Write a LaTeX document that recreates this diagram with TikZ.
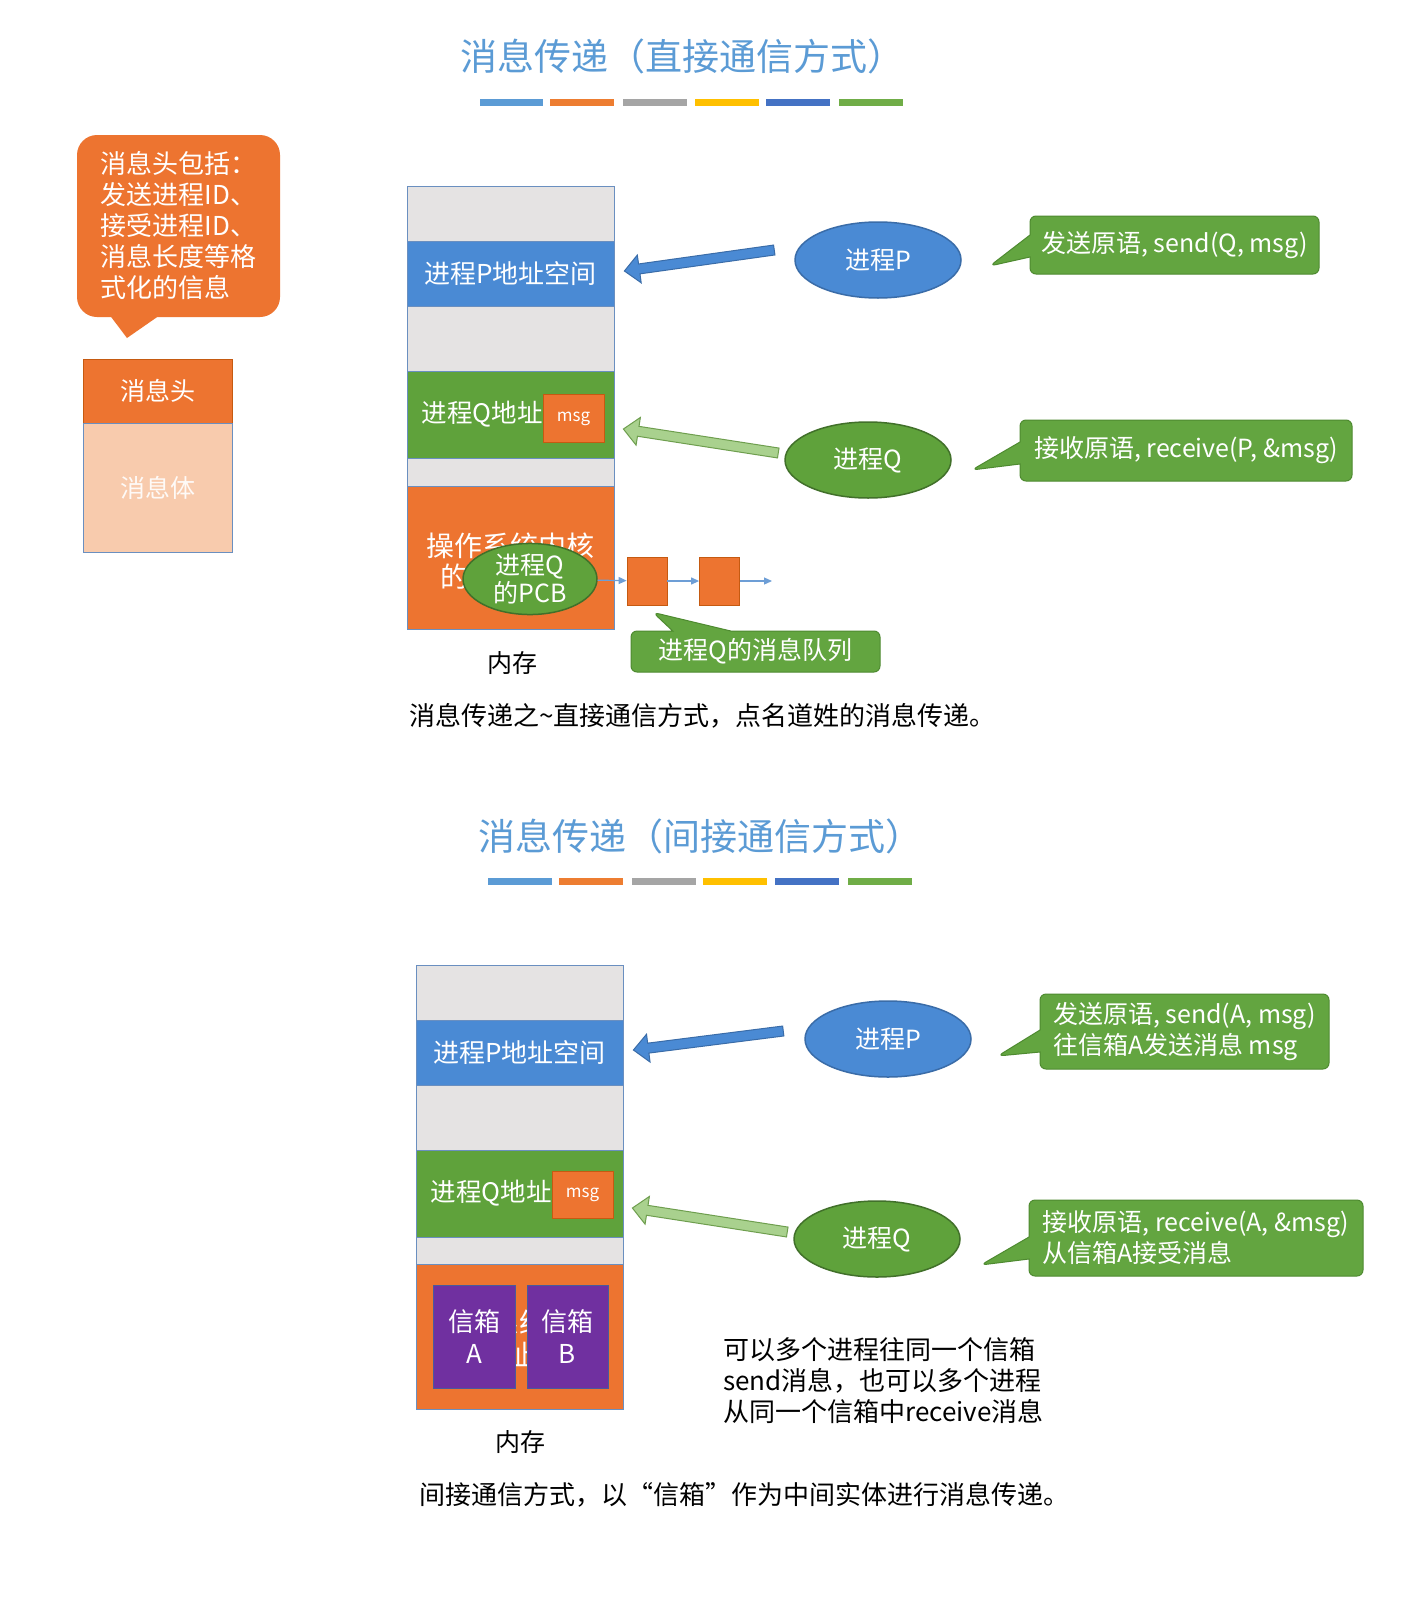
\documentclass[tikz,border=0pt]{standalone}
\usepackage{fontspec}
\setmainfont{Noto Sans CJK SC}
\usetikzlibrary{positioning,shapes.geometric,shapes.callouts,calc,arrows.meta}

\definecolor{ttlblue}{HTML}{5B9BD5}
\definecolor{pblue}{HTML}{4A8AD4}
\definecolor{pblueline}{HTML}{3A6CA8}
\definecolor{qgreen}{HTML}{5FA23B}
\definecolor{qgreenline}{HTML}{41702A}
\definecolor{saygreen}{HTML}{63A540}
\definecolor{sayline}{HTML}{4E8A30}
\definecolor{lgreen}{HTML}{A9D18E}
\definecolor{lgreenline}{HTML}{6E9E4E}
\definecolor{osorange}{HTML}{ED7430}
\definecolor{osline}{HTML}{C55A11}
\definecolor{peach}{HTML}{F8CBAD}
\definecolor{memgray}{HTML}{E5E3E3}
\definecolor{memline}{HTML}{6A8FC0}
\definecolor{boxpurple}{HTML}{7030A0}
\definecolor{boxline}{HTML}{4A5A9A}
\definecolor{qline}{HTML}{6D9ED6}
\definecolor{barblue}{HTML}{5B9BD5}
\definecolor{barorange}{HTML}{ED7D31}
\definecolor{bargray}{HTML}{A5A5A5}
\definecolor{baryellow}{HTML}{FFC000}
\definecolor{bardkblue}{HTML}{4472C4}
\definecolor{bargreen}{HTML}{70AD47}

\newcommand{\txtsize}[2]{\fontsize{#1}{#2}\selectfont}

% wide arrow with outline: fill, line, tail, tip
\newcommand{\blockarrow}[4]{%
  \coordinate (ba-t) at (#3);
  \coordinate (ba-h) at (#4);
  \coordinate (ba-n) at ($(ba-h)!15pt!(ba-t)$);
  \filldraw[fill=#1, draw=#2, line width=1pt, line join=miter]
    ($(ba-t)!5pt!90:(ba-h)$) -- ($(ba-n)!5pt!-90:(ba-t)$) -- ($(ba-n)!14pt!-90:(ba-t)$)
    -- (ba-h) -- ($(ba-n)!14pt!90:(ba-t)$) -- ($(ba-n)!5pt!90:(ba-t)$)
    -- ($(ba-t)!5pt!-90:(ba-h)$) -- cycle;
}

\begin{document}
\begin{tikzpicture}[
    x=1pt, y=-1pt,
    heading/.style={text=ttlblue, font=\txtsize{37pt}{40pt}},
    band/.style={rectangle, draw=memline, line width=0.8pt, minimum width=207pt, inner sep=0pt, text=white, font=\txtsize{26pt}{31pt}},
    bandtext/.style={text=white, inner sep=0pt, font=\txtsize{25.5pt}{31pt}},
    msgbox/.style={rectangle, fill=osorange, draw=osline, line width=0.8pt, minimum width=61pt, minimum height=48pt, inner sep=0pt, text=white, font=\txtsize{17pt}{20pt}},
    proc/.style={ellipse, minimum width=166pt, minimum height=76pt, inner sep=0pt, line width=1.5pt, text=white, font=\txtsize{25pt}{30pt}},
    pcb/.style={ellipse, minimum width=134pt, minimum height=71pt, inner sep=0pt, fill=qgreen, draw=qgreenline, line width=1.5pt, text=white, align=center, font=\txtsize{25pt}{28pt}},
    saybox/.style={rectangle callout, rounded corners=6pt, fill=saygreen, draw=sayline, line width=1pt, inner sep=0pt, text=white, align=left, font=\txtsize{25pt}{31pt}, callout pointer width=22pt},
    qbox/.style={rectangle, fill=osorange, draw=osline, line width=0.8pt, minimum width=40pt, minimum height=48pt, inner sep=0pt},
    qarrow/.style={-{Triangle[width=7pt,length=8pt]}, line width=1.2pt, draw=qline},
    mailbox/.style={rectangle, fill=boxpurple, draw=boxline, line width=1pt, minimum width=82pt, minimum height=103pt, inner sep=0pt, text=white, align=center, font=\txtsize{26pt}{32pt}},
    note/.style={rectangle, rounded corners=20pt, fill=osorange, minimum width=203pt, minimum height=182pt, inner sep=0pt, text=white, align=left, font=\txtsize{26pt}{31pt}},
    msgpart/.style={rectangle, minimum width=149pt, inner sep=0pt, line width=0.8pt, font=\txtsize{25pt}{30pt}},
    plaintext/.style={text=black, inner sep=0pt, align=left, font=\txtsize{25pt}{31pt}}
]
    \useasboundingbox (0,0) rectangle (1403,1603);
    \fill[white] (0,0) rectangle (1403,1603);

    % Titles and colour bars
    \node[heading] (titleA) at (682,56) {消息传递（直接通信方式）};
    \fill[barblue]   (480,99) rectangle (543,106);
    \fill[barorange] (550,99) rectangle (614,106);
    \fill[bargray]   (623,99) rectangle (687,106);
    \fill[baryellow] (695,99) rectangle (759,106);
    \fill[bardkblue] (766,99) rectangle (830,106);
    \fill[bargreen]  (839,99) rectangle (903,106);

    \node[heading] (titleB) at (700,836) {消息传递（间接通信方式）};
    \fill[barblue]   (488,878) rectangle (552,885);
    \fill[barorange] (559,878) rectangle (623,885);
    \fill[bargray]   (632,878) rectangle (696,885);
    \fill[baryellow] (703,878) rectangle (767,885);
    \fill[bardkblue] (775,878) rectangle (839,885);
    \fill[bargreen]  (848,878) rectangle (912,885);

    % Message structure
    \node[note] (hdrnote) at (178.5,226) {消息头包括：\\发送进程ID、\\接受进程ID、\\消息长度等格\\式化的信息};
    \coordinate (notetip) at (127,338);
    \fill[osorange] ($(hdrnote.south west)+(33,-2)$) -- (notetip) -- ($(hdrnote.south west)+(83,-2)$) -- cycle;
    \node[msgpart, fill=osorange, draw=osline, minimum height=64pt, text=white] (msghead) at (157.5,391) {消息头};
    \node[msgpart, fill=peach, draw=memline, minimum height=129pt, text=white!90!peach] (msgbody) at (157.5,487.5) {消息体};

    % Memory, direct communication
    \node[band, fill=memgray, minimum height=55pt] (topA) at (510.5,213.5) {};
    \node[band, fill=pblue, minimum height=65pt] (pspaceA) at (510.5,273.5) {进程P地址空间};
    \node[band, fill=memgray, minimum height=65pt] (gapA) at (510.5,338.5) {};
    \node[band, fill=qgreen, minimum height=87pt] (qspaceA) at (510.5,414.5) {};
    \node[band, fill=memgray, minimum height=28pt] (lowA) at (510.5,472) {};
    \node[band, fill=osorange, minimum height=143pt] (kernA) at (510.5,557.5) {};
    \node[bandtext, anchor=west, right=15pt of qspaceA.west] (qtextA) {进程Q地址};
    \node[msgbox] (msgA) at (573.5,418.5) {msg};
    \node[bandtext, align=center, font=\txtsize{28pt}{31pt}] (kerntextA) at (510.5,561) {操作系统内核\\的地址空间};
    \node[pcb] (pcbA) at (530,579) {进程Q\\的PCB};

    % Processes and primitives
    \node[proc, fill=pblue, draw=pblueline] (procPA) at (878,260) {进程P};
    \node[proc, fill=qgreen, draw=qgreenline] (procQA) at (868,460) {进程Q};
    \blockarrow{pblue}{pblueline}{$(procPA.west)+(-20,-10)$}{$(pspaceA.east)+(10,-2.5)$}
    \blockarrow{lgreen}{lgreenline}{$(procQA.west)+(-6,-7)$}{$(qspaceA.east)+(9,14.5)$}
    \node[saybox, minimum width=289pt, minimum height=58pt,
        callout absolute pointer={($(procPA.east)+(28,6)$)}] (sendA) at (1174.5,245) {发送原语, send(Q, msg)};
    \node[saybox, minimum width=332pt, minimum height=61pt,
        callout absolute pointer={($(procQA.east)+(20,10)$)}] (recvA) at (1186,450.5) {接收原语, receive(P, \&msg)};

    % Message queue
    \node[qbox] (qmA1) at (647,581) {};
    \node[qbox] (qmA2) at (719.5,581) {};
    \coordinate (qendA) at (772,581);
    \draw[qarrow] (pcbA) -- (qmA1);
    \draw[qarrow] (qmA1) -- (qmA2);
    \draw[qarrow] (qmA2) -- (qendA);
    \node[saybox, align=center, minimum width=249pt, minimum height=41pt, callout pointer width=58pt,
        callout absolute pointer={($(qmA1.south)+(6,7)$)}] (qnoteA) at (755.5,651.5) {进程Q的消息队列};

    \node[plaintext] (memA) at (512,663) {内存};
    \node[plaintext, anchor=west, font=\txtsize{26pt}{31pt}] (capA) at (409,716) {消息传递之\textasciitilde 直接通信方式，点名道姓的消息传递。};

    % Memory, indirect communication
    \node[band, fill=memgray, minimum height=55pt] (topB) at (519.5,992.5) {};
    \node[band, fill=pblue, minimum height=65pt] (pspaceB) at (519.5,1052.5) {进程P地址空间};
    \node[band, fill=memgray, minimum height=65pt] (gapB) at (519.5,1117.5) {};
    \node[band, fill=qgreen, minimum height=87pt] (qspaceB) at (519.5,1193.5) {};
    \node[band, fill=memgray, minimum height=27pt] (lowB) at (519.5,1250.5) {};
    \node[band, fill=osorange, minimum height=145pt] (kernB) at (519.5,1336.5) {};
    \node[bandtext, anchor=west, right=15pt of qspaceB.west] (qtextB) {进程Q地址};
    \node[msgbox, minimum height=47pt] (msgB) at (582.5,1194.5) {msg};
    \node[bandtext, align=center, font=\txtsize{28pt}{32pt}] (kerntextB) at (519.5,1339) {操作系统内核\\的地址空间};
    \node[mailbox] (boxA) at (474,1336.5) {信箱\\A};
    \node[mailbox, minimum width=81pt] (boxB) at (567.5,1336.5) {信箱\\B};

    \node[proc, fill=pblue, draw=pblueline] (procPB) at (888,1039) {进程P};
    \node[proc, fill=qgreen, draw=qgreenline] (procQB) at (877,1239) {进程Q};
    \blockarrow{pblue}{pblueline}{$(procPB.west)+(-21,-8)$}{$(pspaceB.east)+(10,-2.5)$}
    \blockarrow{lgreen}{lgreenline}{$(procQB.west)+(-6,-7)$}{$(qspaceB.east)+(9,14.5)$}
    \node[saybox, minimum width=289pt, minimum height=75pt,
        callout absolute pointer={($(procPB.east)+(26,17)$)}] (sendB) at (1184.5,1031.5) {发送原语, send(A, msg)\\往信箱A发送消息 msg};
    \node[saybox, minimum width=334pt, minimum height=76pt,
        callout absolute pointer={($(procQB.east)+(20,26)$)}] (recvB) at (1196,1238) {接收原语, receive(A, \&msg)\\从信箱A接受消息};

    \node[plaintext, anchor=west, font=\txtsize{26pt}{31pt}] (manyB) at (723,1381) {可以多个进程往同一个信箱\\send消息，也可以多个进程\\从同一个信箱中receive消息};
    \node[plaintext] (memB) at (520,1442) {内存};
    \node[plaintext, anchor=west, font=\txtsize{26pt}{31pt}] (capB) at (419,1495) {间接通信方式，以“信箱”作为中间实体进行消息传递。};
\end{tikzpicture}
\end{document}
